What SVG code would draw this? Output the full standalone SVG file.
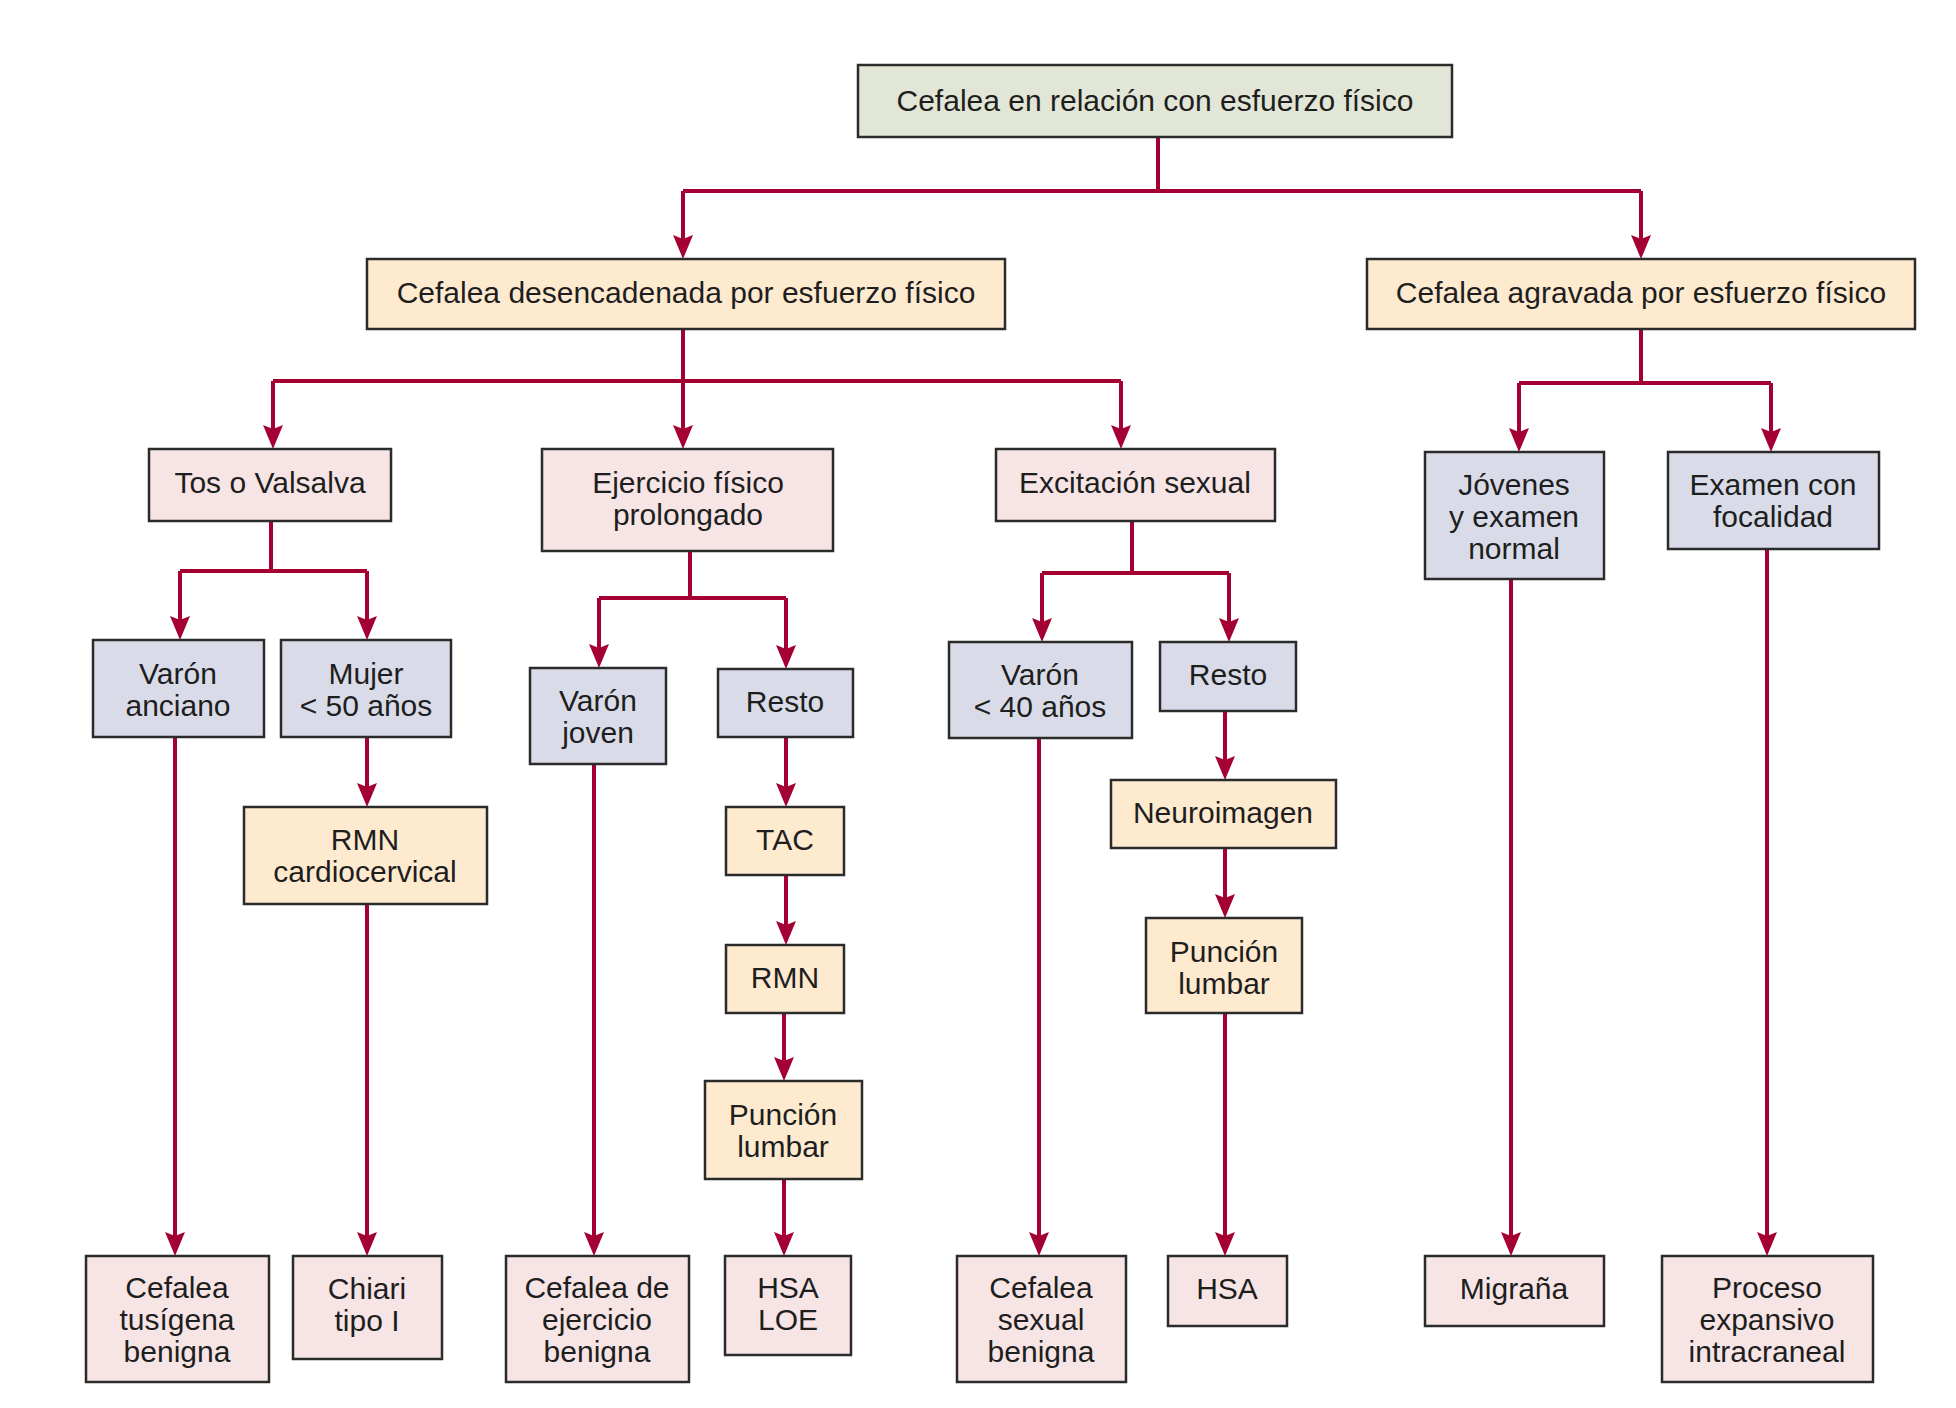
<svg xmlns="http://www.w3.org/2000/svg" width="1956" height="1408" viewBox="0 0 1956 1408">
<defs>
<style>
.box{stroke:#2b2b2b;stroke-width:2.5}
.g{fill:#e2e6d6}.p{fill:#feeacf}.k{fill:#f6e5e4}.l{fill:#d9dce8}
text{font-family:"Liberation Sans",Arial,sans-serif;font-size:30px;fill:#1e1e1e;text-anchor:middle}
.c path{fill:none;stroke:#a50034;stroke-width:4}
.c path.a{marker-end:url(#ah)}
</style>
<marker id="ah" markerUnits="userSpaceOnUse" markerWidth="30" markerHeight="30" refX="14" refY="0" orient="auto" overflow="visible">
<path d="M0,-10 L24,0 L0,10 L4,0 Z" fill="#a50034"/>
</marker>
</defs>
<rect width="1956" height="1408" fill="#ffffff"/>
<g class="c" id="connectors">
<path d="M1158,137 V191"/>
<path d="M683,191 H1641"/>
<path class="a" d="M683,191 V249"/>
<path class="a" d="M1641,191 V249"/>
<path d="M683,329 V381"/>
<path d="M273,381 H1121"/>
<path class="a" d="M683,381 V439"/>
<path class="a" d="M273,381 V439"/>
<path class="a" d="M1121,381 V439"/>
<path d="M1641,329 V383"/>
<path d="M1519,383 H1771"/>
<path class="a" d="M1519,383 V442"/>
<path class="a" d="M1771,383 V442"/>
<path d="M271,521 V571"/>
<path d="M180,571 H367"/>
<path class="a" d="M180,571 V630"/>
<path class="a" d="M367,571 V630"/>
<path d="M690,551 V598"/>
<path d="M599,598 H786"/>
<path class="a" d="M599,598 V658"/>
<path class="a" d="M786,598 V659"/>
<path d="M1132,521 V573"/>
<path d="M1042,573 H1229"/>
<path class="a" d="M1042,573 V632"/>
<path class="a" d="M1229,573 V632"/>
<path class="a" d="M175,737 V1246"/>
<path class="a" d="M367,737 V797"/>
<path class="a" d="M367,904 V1246"/>
<path class="a" d="M594,764 V1246"/>
<path class="a" d="M786,737 V797"/>
<path class="a" d="M786,875 V935"/>
<path class="a" d="M784,1013 V1071"/>
<path class="a" d="M784,1179 V1246"/>
<path class="a" d="M1039,738 V1246"/>
<path class="a" d="M1225,711 V770"/>
<path class="a" d="M1225,848 V908"/>
<path class="a" d="M1225,1013 V1246"/>
<path class="a" d="M1511,579 V1246"/>
<path class="a" d="M1767,549 V1246"/>
</g>
<g id="n_top"><rect class="box g" x="858" y="65" width="594" height="72"/><text x="1155" y="111">Cefalea en relación con esfuerzo físico</text></g>
<g id="n_desencadenada"><rect class="box p" x="367" y="259" width="638" height="70"/><text x="686" y="303">Cefalea desencadenada por esfuerzo físico</text></g>
<g id="n_agravada"><rect class="box p" x="1367" y="259" width="548" height="70"/><text x="1641" y="303">Cefalea agravada por esfuerzo físico</text></g>
<g id="n_tos"><rect class="box k" x="149" y="449" width="242" height="72"/><text x="270" y="492.5">Tos o Valsalva</text></g>
<g id="n_ejercicio"><rect class="box k" x="542" y="449" width="291" height="102"/><text x="688" y="493">Ejercicio físico</text><text x="688" y="525">prolongado</text></g>
<g id="n_excitacion"><rect class="box k" x="996" y="449" width="279" height="72"/><text x="1135" y="492.5">Excitación sexual</text></g>
<g id="n_jovenes"><rect class="box l" x="1425" y="452" width="179" height="127"/><text x="1514" y="495">Jóvenes</text><text x="1514" y="527">y examen</text><text x="1514" y="559">normal</text></g>
<g id="n_examen"><rect class="box l" x="1668" y="452" width="211" height="97"/><text x="1773" y="495">Examen con</text><text x="1773" y="527">focalidad</text></g>
<g id="n_varon_anciano"><rect class="box l" x="93" y="640" width="171" height="97"/><text x="178" y="684">Varón</text><text x="178" y="716">anciano</text></g>
<g id="n_mujer"><rect class="box l" x="281" y="640" width="170" height="97"/><text x="366" y="684">Mujer</text><text x="366" y="716">&lt; 50 años</text></g>
<g id="n_varon_joven"><rect class="box l" x="530" y="668" width="136" height="96"/><text x="598" y="711">Varón</text><text x="598" y="743">joven</text></g>
<g id="n_resto1"><rect class="box l" x="718" y="669" width="135" height="68"/><text x="785" y="712">Resto</text></g>
<g id="n_varon40"><rect class="box l" x="949" y="642" width="183" height="96"/><text x="1040" y="685">Varón</text><text x="1040" y="717">&lt; 40 años</text></g>
<g id="n_resto2"><rect class="box l" x="1160" y="642" width="136" height="69"/><text x="1228" y="685">Resto</text></g>
<g id="n_rmn_cardio"><rect class="box p" x="244" y="807" width="243" height="97"/><text x="365" y="850">RMN</text><text x="365" y="882">cardiocervical</text></g>
<g id="n_tac"><rect class="box p" x="726" y="807" width="118" height="68"/><text x="785" y="850">TAC</text></g>
<g id="n_rmn"><rect class="box p" x="726" y="945" width="118" height="68"/><text x="785" y="988">RMN</text></g>
<g id="n_puncion1"><rect class="box p" x="705" y="1081" width="157" height="98"/><text x="783" y="1124.5">Punción</text><text x="783" y="1156.5">lumbar</text></g>
<g id="n_neuroimagen"><rect class="box p" x="1111" y="780" width="225" height="68"/><text x="1223" y="823">Neuroimagen</text></g>
<g id="n_puncion2"><rect class="box p" x="1146" y="918" width="156" height="95"/><text x="1224" y="962">Punción</text><text x="1224" y="994">lumbar</text></g>
<g id="n_tusigena"><rect class="box k" x="86" y="1256" width="183" height="126"/><text x="177" y="1298">Cefalea</text><text x="177" y="1330">tusígena</text><text x="177" y="1362">benigna</text></g>
<g id="n_chiari"><rect class="box k" x="293" y="1256" width="149" height="103"/><text x="367" y="1299">Chiari</text><text x="367" y="1331">tipo I</text></g>
<g id="n_ejercicio_benigna"><rect class="box k" x="506" y="1256" width="183" height="126"/><text x="597" y="1298">Cefalea de</text><text x="597" y="1330">ejercicio</text><text x="597" y="1362">benigna</text></g>
<g id="n_hsa_loe"><rect class="box k" x="725" y="1256" width="126" height="99"/><text x="788" y="1298">HSA</text><text x="788" y="1330">LOE</text></g>
<g id="n_sexual"><rect class="box k" x="957" y="1256" width="169" height="126"/><text x="1041" y="1298">Cefalea</text><text x="1041" y="1330">sexual</text><text x="1041" y="1362">benigna</text></g>
<g id="n_hsa"><rect class="box k" x="1168" y="1256" width="119" height="70"/><text x="1227" y="1299">HSA</text></g>
<g id="n_migrana"><rect class="box k" x="1425" y="1256" width="179" height="70"/><text x="1514" y="1299">Migraña</text></g>
<g id="n_proceso"><rect class="box k" x="1662" y="1256" width="211" height="126"/><text x="1767" y="1298">Proceso</text><text x="1767" y="1330">expansivo</text><text x="1767" y="1362">intracraneal</text></g>
</svg>
